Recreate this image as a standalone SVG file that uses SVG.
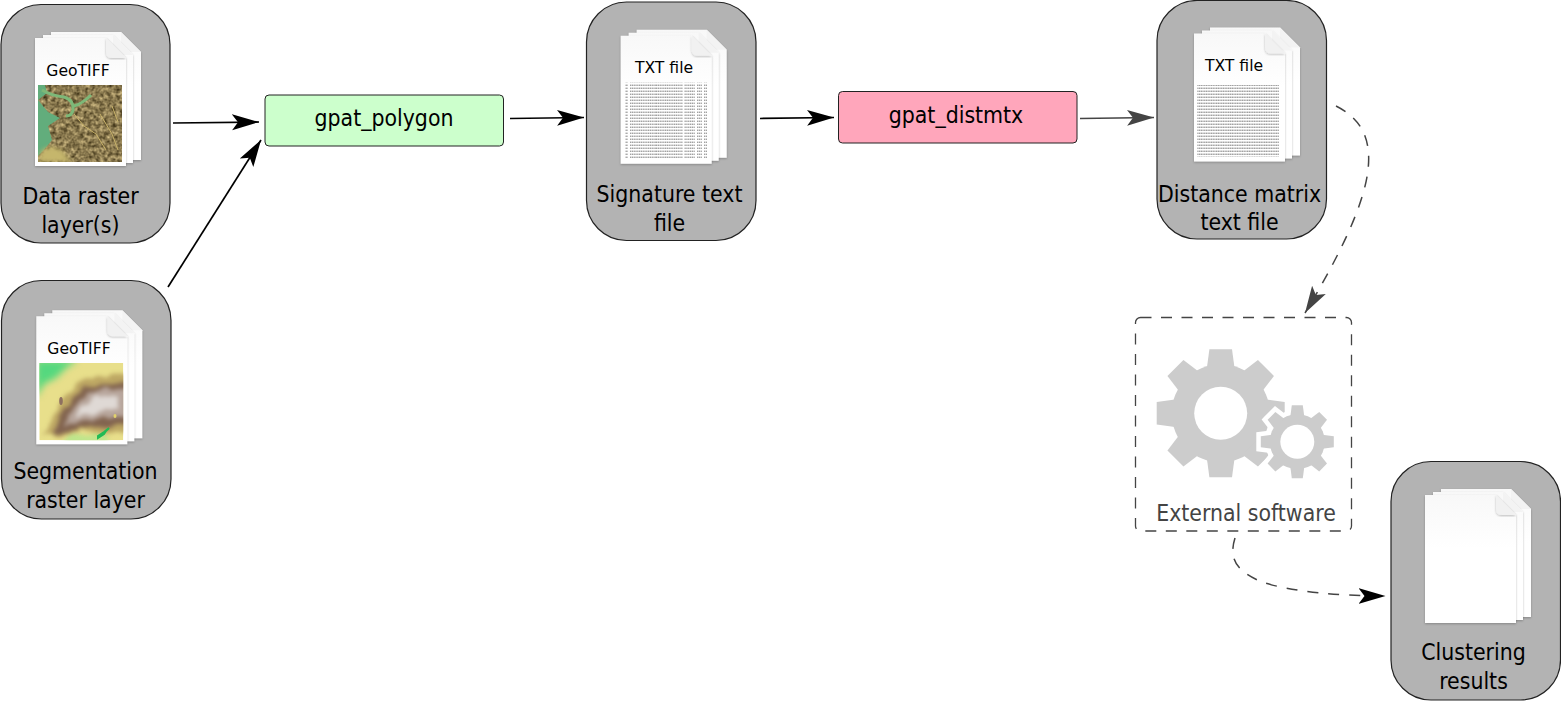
<svg xmlns="http://www.w3.org/2000/svg" width="1561" height="701" viewBox="0 0 1561 701">
<style>
.box{fill:#b3b3b3;stroke:#222;stroke-width:1.2}
.lbl{font-family:"DejaVu Sans Condensed","DejaVu Sans",sans-serif;font-stretch:condensed;font-size:22.8px;text-anchor:middle;fill:#000}
.doc{font-family:"DejaVu Sans",sans-serif;font-size:15.6px;text-anchor:middle;fill:#000}
.proc{stroke:#222;stroke-width:1}
.c{fill:none;stroke:#000;stroke-width:1.7}
.d{fill:none;stroke:#444;stroke-width:1.5;stroke-dasharray:11 10}
.gear{fill:#ccc}
</style>
<defs>
<marker id="ah" markerUnits="userSpaceOnUse" markerWidth="30" markerHeight="20" refX="27" refY="10" orient="auto"><path d="M0,2 L27,10 L0,18 L6,10Z" fill="#000"/></marker>
<marker id="ahg" markerUnits="userSpaceOnUse" markerWidth="30" markerHeight="20" refX="27" refY="10" orient="auto"><path d="M0,2 L27,10 L0,18 L6,10Z" fill="#444"/></marker>
<linearGradient id="pg" x1="0" y1="0" x2="0" y2="1"><stop offset="0" stop-color="#f8f8f8"/><stop offset=".42" stop-color="#fff"/><stop offset="1" stop-color="#fff"/></linearGradient>
<filter id="sh" x="-10%" y="-10%" width="120%" height="120%"><feDropShadow dx="0" dy="1" stdDeviation="1" flood-color="#000" flood-opacity=".25"/></filter>
<g id="stack">
<path d="M16,-6H86L106,14V122H16Z" fill="url(#pg)" filter="url(#sh)"/>
<path d="M86,-6L106,14H92Q86,14 86,8Z" fill="#f3f3f3"/>
<path d="M8,-3H78L98,17V125H8Z" fill="url(#pg)" filter="url(#sh)"/>
<path d="M78,-3L98,17H84Q78,17 78,11Z" fill="#f3f3f3"/>
<path d="M0,0H71L91,20V128H0Z" fill="url(#pg)" filter="url(#sh)"/>
<path d="M71,0L91,20H77Q71,20 71,14Z" fill="#f1f1f1" filter="url(#sh)"/>
</g>
<filter id="tex1" x="0" y="0" width="100%" height="100%" color-interpolation-filters="sRGB"><feTurbulence type="fractalNoise" baseFrequency=".25" numOctaves="3" seed="5"/><feColorMatrix values=".8 0 0 0 .14  .75 0 0 0 .1  .6 0 0 0 .01  0 0 0 0 1"/></filter>
<filter id="b1" color-interpolation-filters="sRGB"><feGaussianBlur stdDeviation=".7"/></filter>
<filter id="b2" color-interpolation-filters="sRGB"><feGaussianBlur stdDeviation="2"/></filter>
<filter id="b4" color-interpolation-filters="sRGB"><feGaussianBlur stdDeviation="3.5"/></filter>
<filter id="rough" x="-20%" y="-20%" width="140%" height="140%" color-interpolation-filters="sRGB"><feTurbulence type="fractalNoise" baseFrequency=".09" numOctaves="3" seed="8" result="n"/><feDisplacementMap in="SourceGraphic" in2="n" scale="8" xChannelSelector="R" yChannelSelector="G"/><feGaussianBlur stdDeviation="1.900"/></filter>
<clipPath id="m1"><rect x="38" y="85" width="84" height="77"/></clipPath>
<clipPath id="m2"><rect x="39.300" y="363" width="84" height="77.300"/></clipPath>
<pattern id="txt1" patternUnits="userSpaceOnUse" width="82" height="3"><path d="M0,1.200H27M28.500,1.200H39M41,1.200H46M48,1.200H54M56,1.200H82" stroke="#777" stroke-width="1" stroke-dasharray="1.300 .5"/></pattern>
<pattern id="txt2" patternUnits="userSpaceOnUse" width="82" height="3"><path d="M0,1.200H82" stroke="#777" stroke-width="1" stroke-dasharray="1.300 .4"/></pattern>
<g id="bigGear"><circle r="49"/><path d="M-11.300,-64H11.300L14,-44H-14Z"/><path d="M-11.300,-64H11.300L14,-44H-14Z" transform="rotate(45)"/><path d="M-11.300,-64H11.300L14,-44H-14Z" transform="rotate(90)"/><path d="M-11.300,-64H11.300L14,-44H-14Z" transform="rotate(135)"/><path d="M-11.300,-64H11.300L14,-44H-14Z" transform="rotate(180)"/><path d="M-11.300,-64H11.300L14,-44H-14Z" transform="rotate(225)"/><path d="M-11.300,-64H11.300L14,-44H-14Z" transform="rotate(270)"/><path d="M-11.300,-64H11.300L14,-44H-14Z" transform="rotate(315)"/></g>
<g id="smGear"><circle r="27.500"/><path d="M-5.500,-36.500H5.500L7,-25H-7Z"/><path d="M-5.500,-36.500H5.500L7,-25H-7Z" transform="rotate(45)"/><path d="M-5.500,-36.500H5.500L7,-25H-7Z" transform="rotate(90)"/><path d="M-5.500,-36.500H5.500L7,-25H-7Z" transform="rotate(135)"/><path d="M-5.500,-36.500H5.500L7,-25H-7Z" transform="rotate(180)"/><path d="M-5.500,-36.500H5.500L7,-25H-7Z" transform="rotate(225)"/><path d="M-5.500,-36.500H5.500L7,-25H-7Z" transform="rotate(270)"/><path d="M-5.500,-36.500H5.500L7,-25H-7Z" transform="rotate(315)"/></g>
</defs>
<rect width="1561" height="701" fill="#fff"/>
<g id="connectors">
<path class="c" d="M173,123L259,122" marker-end="url(#ah)"/>
<path class="c" d="M168,287L261,140" marker-end="url(#ah)"/>
<path class="c" d="M510,118.500L584,117.500" marker-end="url(#ah)"/>
<path class="c" d="M760,118.500L834,117.500" marker-end="url(#ah)"/>
<path class="c" d="M1080,118.500L1154,117.500" style="stroke:#444" marker-end="url(#ahg)"/>
<path class="d" d="M1336,106C1358,117 1372,135 1368,170C1364,205 1340,255 1305,313" marker-end="url(#ahg)"/>
<path class="d" d="M1235,538C1228,560 1238,572 1262,582C1292,592 1340,596 1385.500,596" marker-end="url(#ah)"/>
</g>
<g id="node-data-raster">
<rect class="box" x="1" y="4.500" width="169" height="238.500" rx="40"/>
<use href="#stack" x="35" y="38"/>
<text class="doc" x="78" y="76">GeoTIFF</text>
<g clip-path="url(#m1)">
<rect x="38" y="85" width="84" height="77" filter="url(#tex1)"/>
<path d="M38,85H45L47,93L38,100ZM38,100L48,112L60,118L48,126L52,140L44,150L38,156Z" fill="#62ad7c" filter="url(#b1)"/>
<path d="M42,90Q52,96 64,97Q74,100 73,110Q72,116 66,116M74,106Q82,104 91,95" fill="none" stroke="#7db878" stroke-width="3"/>
<path d="M38,162L42,150L52,146L62,150L72,162Z" fill="#c5b66c" filter="url(#b2)"/>
<path d="M74,114L84,126L96,134L106,150M100,114L112,134L118,150M112,106L118,122" fill="none" stroke="#c9b36a" stroke-width="1"/>
</g>
<text class="lbl" x="80.500" y="203.500">Data raster</text>
<text class="lbl" x="80.500" y="232.500">layer(s)</text>
</g>
<g id="node-segmentation-raster">
<rect class="box" x="1.500" y="280.500" width="169.500" height="238.500" rx="40"/>
<use href="#stack" x="36.300" y="316.300"/>
<text class="doc" x="79" y="354">GeoTIFF</text>
<g clip-path="url(#m2)">
<rect x="39.300" y="363" width="84" height="77.300" fill="#e8df8b"/>
<path d="M36,360H78L66,368L56,378L44,384L36,398Z" fill="#55d87e" filter="url(#b4)"/>
<path d="M62,445L70,432L88,436L104,430L110,445Z" fill="#bfe58c" filter="url(#b2)"/>
<g filter="url(#rough)">
<path d="M130,372L108,376L88,378L70,390L56,412L44,434L60,438L84,430L100,434L130,432Z" fill="#bda763"/>
<path d="M130,381L108,384L88,386L72,396L60,418L52,435L70,432L92,426L108,428L130,422Z" fill="#82644f"/>
<path d="M130,389L104,389L88,394L72,408L64,426L82,422L100,418L130,416Z" fill="#b7a59b"/>
<path d="M118,396L96,397L80,407L76,418L98,413L118,408Z" fill="#dfd9d5"/>
</g>
<ellipse cx="61" cy="401" rx="1.800" ry="4" fill="#8e7060"/>
<path d="M98,438L104,434L106,431L109,428L104,432L98,436Z" fill="#22bb55" stroke="#22bb55" stroke-width="2"/>
<ellipse cx="115" cy="416" rx="1.500" ry="2" fill="#e2d26c"/>
</g>
<text class="lbl" x="85.500" y="479.300">Segmentation</text>
<text class="lbl" x="85.500" y="508.300">raster layer</text>
</g>
<g id="node-gpat-polygon">
<rect class="proc" x="265" y="95" width="238.500" height="51" rx="4" fill="#ccffcc"/>
<text class="lbl" x="384" y="126">gpat_polygon</text>
</g>
<g id="node-signature">
<rect class="box" x="586.500" y="2" width="169.500" height="238.500" rx="40"/>
<use href="#stack" x="620.700" y="35.700"/>
<text class="doc" x="664" y="73">TXT file</text>
<rect x="625" y="82.700" width="82" height="75.300" fill="url(#txt1)"/>
<text class="lbl" x="669.500" y="201.500">Signature text</text>
<text class="lbl" x="669.500" y="230.500">file</text>
</g>
<g id="node-gpat-distmtx">
<rect class="proc" x="838.500" y="91.500" width="238.500" height="51.500" rx="4" fill="#ffa6bb"/>
<text class="lbl" x="956" y="123">gpat_distmtx</text>
</g>
<g id="node-distance">
<rect class="box" x="1157" y="0.500" width="169.500" height="238.500" rx="40"/>
<use href="#stack" x="1194" y="33.500"/>
<text class="doc" x="1234" y="71">TXT file</text>
<rect x="1197" y="85" width="82" height="72" fill="url(#txt2)"/>
<text class="lbl" x="1239.500" y="201.500">Distance matrix</text>
<text class="lbl" x="1239.500" y="229.500">text file</text>
</g>
<g id="node-external">
<rect x="1135.500" y="317.500" width="216" height="213.500" rx="5" fill="none" stroke="#444" stroke-width="1.300" stroke-dasharray="11 9.500"/>
<use href="#bigGear" x="1220.700" y="413.300" class="gear"/>
<circle cx="1220.700" cy="413.300" r="26.500" fill="#fff"/>
<use href="#smGear" x="1297.300" y="441.700" style="fill:#fff;stroke:#fff;stroke-width:9"/>
<use href="#smGear" x="1297.300" y="441.700" class="gear"/>
<circle cx="1297.300" cy="441.700" r="17" fill="#fff"/>
<text class="lbl" x="1246" y="520.500" style="fill:#444">External software</text>
</g>
<g id="node-clustering">
<rect class="box" x="1391" y="461.500" width="169.500" height="238.500" rx="40"/>
<use href="#stack" x="1425" y="495"/>
<text class="lbl" x="1473.500" y="660.300">Clustering</text>
<text class="lbl" x="1473.500" y="689.300">results</text>
</g>
</svg>
